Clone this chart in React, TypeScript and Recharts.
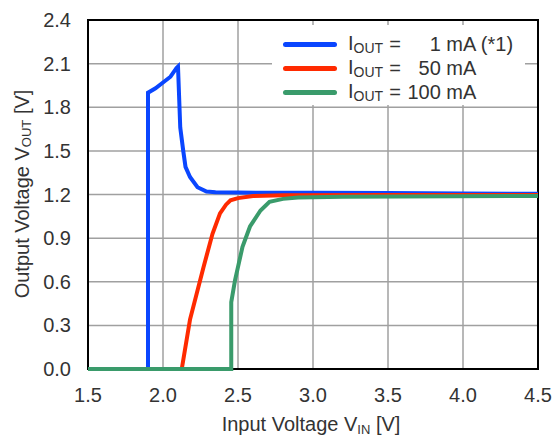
import { LineChart, Line, XAxis, YAxis, CartesianGrid, Legend, ReferenceArea } from "recharts"

// Input voltage / output voltage readings per load current
const blueVin = [1.5, 1.9, 1.9, 1.95, 2.0, 2.05, 2.09, 2.1, 2.115, 2.135, 2.15, 2.18, 2.23, 2.29, 2.35, 2.5, 3.0, 3.5, 4.0, 4.5]
const blueVout = [0, 0, 1.9, 1.93, 1.97, 2.01, 2.07, 2.08, 1.66, 1.5, 1.39, 1.32, 1.25, 1.22, 1.215, 1.213, 1.212, 1.21, 1.207, 1.205]

const redVin = [1.5, 2.125, 2.18, 2.27, 2.33, 2.38, 2.42, 2.45, 2.5, 2.6, 2.8, 3.5, 4.5]
const redVout = [0, 0, 0.34, 0.7, 0.93, 1.07, 1.13, 1.16, 1.175, 1.19, 1.195, 1.197, 1.197]

const greenVin = [1.5, 2.455, 2.455, 2.48, 2.53, 2.58, 2.65, 2.71, 2.8, 2.9, 3.2, 4.5]
const greenVout = [0, 0, 0.46, 0.61, 0.84, 0.98, 1.09, 1.15, 1.17, 1.18, 1.185, 1.19]

const xTicks = [1.5, 2.0, 2.5, 3.0, 3.5, 4.0, 4.5]
const yTicks = [0, 0.3, 0.6, 0.9, 1.2, 1.5, 1.8, 2.1, 2.4]

const seriesNames = ["1 mA", "50 mA", "100 mA"]
const seriesColors = ["#0a46ff", "#ff2a00", "#3a9b6b"]
const legendCurrents = ["1", "50", "100"]
const legendNotes = [" (*1)", "", ""]

const toPoints = (xs: number[], ys: number[]) => xs.map((v, i) => ({ vin: v, vout: ys[i] }))

const FONT = "'Liberation Sans', Arial, sans-serif"
const TEXT = "#333"

function LegendBox() {
  // fixed order, same as the series
  return (
    <div style={{ fontFamily: FONT, fontSize: 20, color: TEXT, paddingTop: 7 }}>
      {seriesNames.map((name, i) => (
        <div key={name} style={{ display: "flex", alignItems: "center", height: 24 }}>
          <div style={{ width: 54, height: 5, borderRadius: 3, background: seriesColors[i], marginLeft: 11, marginRight: 11 }} />
          <span>
            I<sub style={{ fontSize: 14, verticalAlign: -3 }}>OUT</sub>
          </span>
          <span style={{ marginLeft: 6 }}>=</span>
          <span style={{ display: "inline-block", width: 40, textAlign: "right" }}>{legendCurrents[i]}</span>
          <span style={{ whiteSpace: "pre" }}> mA{legendNotes[i]}</span>
        </div>
      ))}
    </div>
  )
}

function YTitle() {
  const cy = 194
  return (
    <text x={22} y={cy} transform={`rotate(-90 22 ${cy})`} textAnchor="middle" dominantBaseline="central" fill={TEXT} fontSize={20} fontFamily={FONT}>
      Output Voltage V<tspan fontSize={13} dy={4}>OUT</tspan>
      <tspan dy={-4}> [V]</tspan>
    </text>
  )
}

function XTitle() {
  return (
    <text x={311} y={431} textAnchor="middle" fill={TEXT} fontSize={20} fontFamily={FONT}>
      Input Voltage V<tspan fontSize={13} dy={3}>IN</tspan>
      <tspan dy={-3}> [V]</tspan>
    </text>
  )
}

export default function App() {
  return (
    <div style={{ position: "absolute", left: 0, top: 0, width: 553, height: 436, background: "#fff" }}>
      <LineChart width={553} height={436} margin={{ top: 20, right: 15, left: 0, bottom: 0 }}>
        <CartesianGrid stroke="#a0a0a0" strokeWidth={1.5} />
        <XAxis
          type="number"
          dataKey="vin"
          domain={[1.5, 4.5]}
          ticks={xTicks}
          tickFormatter={(v: number) => v.toFixed(1)}
          height={67}
          tickSize={0}
          tickMargin={19}
          axisLine={false}
          tick={{ fill: TEXT, fontSize: 20, fontFamily: FONT }}
          label={<XTitle />}
          allowDuplicatedCategory={false}
        />
        <YAxis
          type="number"
          dataKey="vout"
          domain={[0, 2.4]}
          ticks={yTicks}
          tickFormatter={(v: number) => v.toFixed(1)}
          width={88}
          tickSize={0}
          tickMargin={17}
          axisLine={false}
          tick={{ fill: TEXT, fontSize: 20, fontFamily: FONT }}
          label={<YTitle />}
        />
        <ReferenceArea x1={1.5} x2={4.5} y1={0} y2={2.4} fill="none" stroke="#000" strokeWidth={2} />
        <Legend
          layout="horizontal"
          verticalAlign="middle"
          align="center"
          content={<LegendBox />}
          wrapperStyle={{ left: 272, top: 25, width: 253, height: 80, background: "#fff" }}
        />
        <Line data={toPoints(blueVin, blueVout)} dataKey="vout" name={seriesNames[0]} type="linear" stroke={seriesColors[0]} strokeWidth={4} dot={false} isAnimationActive={false} />
        <Line data={toPoints(redVin, redVout)} dataKey="vout" name={seriesNames[1]} type="linear" stroke={seriesColors[1]} strokeWidth={4} dot={false} isAnimationActive={false} />
        <Line data={toPoints(greenVin, greenVout)} dataKey="vout" name={seriesNames[2]} type="linear" stroke={seriesColors[2]} strokeWidth={4} dot={false} isAnimationActive={false} />
      </LineChart>
    </div>
  )
}
